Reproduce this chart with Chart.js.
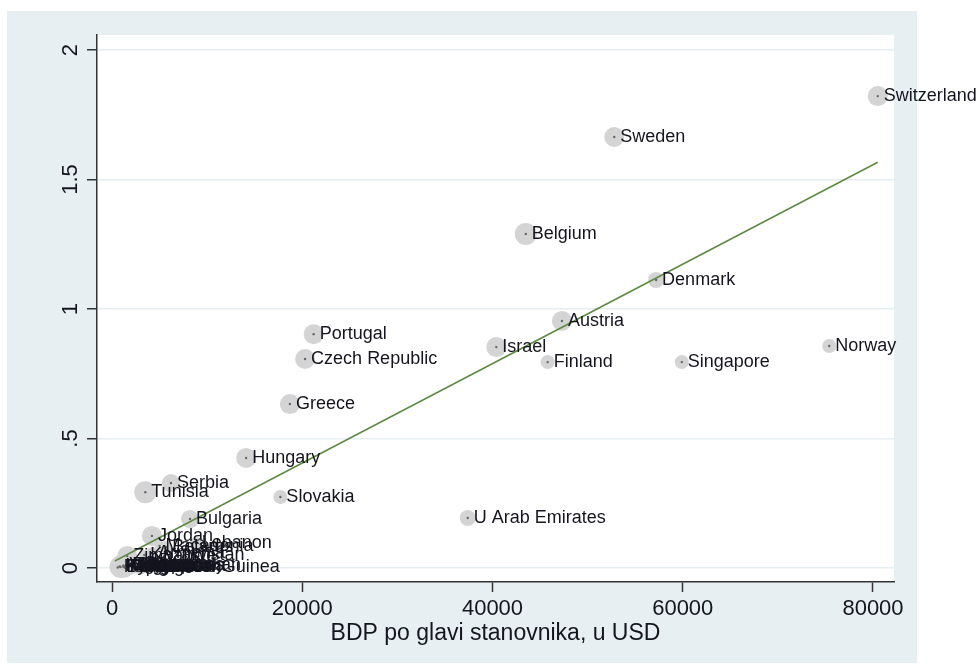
<!DOCTYPE html>
<html>
<head>
<meta charset="utf-8">
<script src="https://cdn.jsdelivr.net/npm/chart.js@4.4.0/dist/chart.umd.min.js"></script>
<style>
  html, body { margin: 0; padding: 0; background: #fff; }
  #wrap { position: relative; width: 977px; height: 664px; }
</style>
</head>
<body>
<div id="wrap"><canvas id="chart"></canvas></div>
<script>
// data
const countries = [
  'Switzerland', 'Sweden', 'Belgium', 'Denmark', 'Austria', 'Israel', 'Finland', 'Singapore', 'Norway',
  'Portugal', 'Czech Republic', 'Greece', 'Hungary', 'Slovakia', 'U Arab Emirates', 'Serbia', 'Tunisia',
  'Bulgaria', 'Jordan', 'Lebanon', 'Belarus', 'Macedonia', 'Armenia', 'Zimbabwe', 'Kazakhstan',
  'Egypt', 'Morocco', 'Georgia', 'Moldova', 'Albania', 'Ukraine', 'Mongolia', 'Kyrgyzstan', 'Vietnam',
  'Azerbaijan', 'Bangladesh', 'Indonesia', 'Philippines', 'Pakistan', 'Nigeria', 'Papua New Guinea'
];
const gdp = [
  80500, 52800, 43500, 57200, 47300, 40400, 45800, 59900, 75400,
  21200, 20300, 18700, 14100, 17700, 37400, 6200, 3500,
  8200, 4200, 8800, 5700, 5000, 4200, 1600, 3400,
  1500, 2300, 2700, 1200, 3500, 3000, 2200, 800, 1200,
  4000, 900, 3100, 2000, 1300, 2600, 600
];
const indexValue = [
  1.822, 1.664, 1.290, 1.112, 0.954, 0.853, 0.795, 0.795, 0.857,
  0.903, 0.807, 0.633, 0.425, 0.274, 0.193, 0.328, 0.293,
  0.189, 0.124, 0.097, 0.081, 0.085, 0.058, 0.046, 0.050,
  0.012, 0.008, 0.014, 0.005, 0.009, 0.015, 0.003, 0.006, 0.010,
  0.010, 0.004, 0.007, 0.011, 0.002, 0.006, 0.002
];
const markerSize = [
  10, 10, 11, 8, 10, 10, 7, 7, 7,
  10, 10, 10, 10, 7, 8, 9, 11,
  9, 10, 6, 6, 5, 6, 10, 5,
  11, 7, 6, 6, 6, 7, 5, 10, 12,
  6, 11, 8, 9, 10, 7, 7
];
const fitX = [300, 80500];
const fitY = [0.027, 1.567];
const xTicks = [0, 20000, 40000, 60000, 80000];
const yTicks = [0, 0.5, 1, 1.5, 2];
const yTickLabels = ['0', '.5', '1', '1.5', '2'];

const FONT = '"Liberation Sans", Arial, sans-serif';
const TEXT = '#15151f';

const points = gdp.map((v, i) => ({x: v, y: indexValue[i]}));

const background = {
  id: 'background',
  beforeDraw(chart) {
    const {ctx, chartArea: a} = chart;
    ctx.save();
    ctx.fillStyle = '#fff';
    ctx.fillRect(0, 0, chart.width, chart.height);
    ctx.fillStyle = '#e8eff2';
    ctx.fillRect(7, 11, 910, 652);
    ctx.fillStyle = '#fff';
    ctx.fillRect(a.left, a.top, a.right - a.left, a.bottom - a.top);
    ctx.restore();
  }
};

const pointLabels = {
  id: 'pointLabels',
  afterDatasetsDraw(chart) {
    const ctx = chart.ctx;
    const meta = chart.getDatasetMeta(2);
    ctx.save();
    ctx.font = '18px ' + FONT;
    ctx.fillStyle = TEXT;
    ctx.textAlign = 'left';
    ctx.textBaseline = 'middle';
    meta.data.forEach((el, i) => {
      ctx.fillText(countries[i], el.x + 6, el.y);
    });
    ctx.restore();
  }
};

new Chart(document.getElementById('chart'), {
  type: 'scatter',
  data: {
    datasets: [
      {
        type: 'scatter',
        data: [{x: fitX[0], y: fitY[0]}, {x: fitX[1], y: fitY[1]}],
        showLine: true,
        borderColor: '#5e8a42',
        borderWidth: 1.6,
        pointRadius: 0,
        order: 0
      },
      {
        type: 'scatter',
        data: points,
        pointRadius: 1.2,
        backgroundColor: '#666',
        borderWidth: 0,
        order: 1
      },
      {
        type: 'bubble',
        data: points.map((p, i) => ({x: p.x, y: p.y, r: markerSize[i]})),
        backgroundColor: '#d4d4d4',
        borderWidth: 0,
        order: 2
      }
    ]
  },
  options: {
    responsive: true,
    maintainAspectRatio: false,
    animation: false,
    layout: {padding: {top: 35, right: 83, left: 0, bottom: 0}},
    plugins: {legend: {display: false}, tooltip: {enabled: false}},
    scales: {
      x: {
        type: 'linear',
        min: -1577,
        max: 82208,
        afterBuildTicks: s => { s.ticks = xTicks.map(v => ({value: v})); },
        afterFit: s => { s.height = 82; },
        grid: {drawOnChartArea: false, tickLength: 10, tickColor: '#333', tickWidth: 1.5},
        border: {color: '#333', width: 1.5},
        ticks: {
          font: {family: FONT, size: 22},
          color: TEXT,
          padding: 4,
          maxRotation: 0,
          callback: v => String(v)
        },
        title: {
          display: true,
          text: 'BDP po glavi stanovnika, u USD',
          font: {family: FONT, size: 23},
          color: TEXT,
          padding: {top: 0, bottom: 17}
        }
      },
      y: {
        type: 'linear',
        min: -0.054,
        max: 2.058,
        afterBuildTicks: s => { s.ticks = yTicks.map(v => ({value: v})); },
        afterFit: s => { s.width = 97; },
        grid: {color: '#e6eef2', lineWidth: 1.5, tickLength: 10, tickColor: '#333', tickWidth: 1.5},
        border: {color: '#333', width: 1.5},
        ticks: {
          font: {family: FONT, size: 22},
          color: TEXT,
          minRotation: 90,
          maxRotation: 90,
          crossAlign: 'center',
          padding: 1,
          callback: (v, i) => yTickLabels[i]
        }
      }
    }
  },
  plugins: [background, pointLabels]
});
</script>
</body>
</html>
